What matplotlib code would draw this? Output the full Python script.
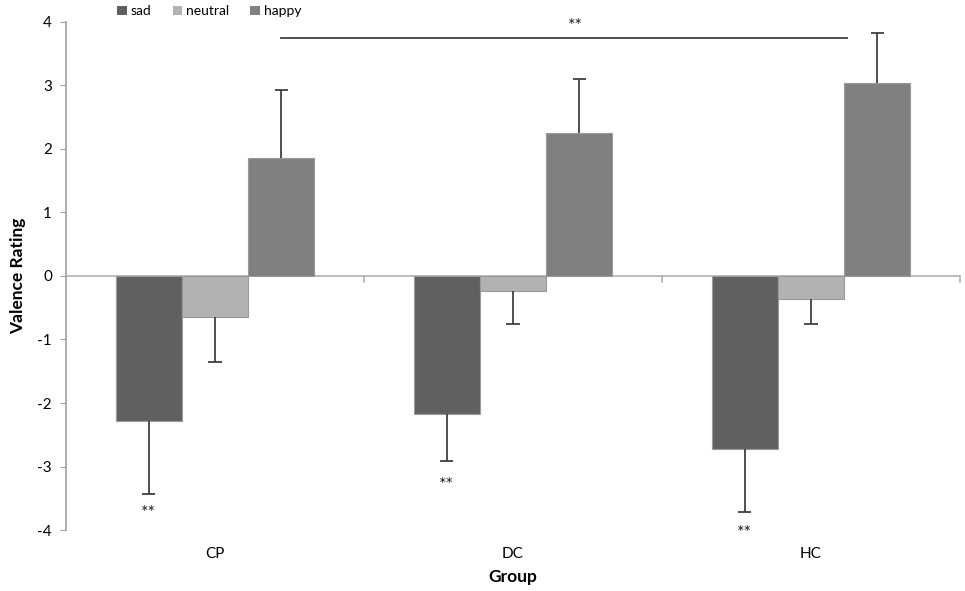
import numpy as np
import matplotlib.pyplot as plt
from matplotlib.patches import Patch

plt.rcParams['font.family'] = ['Lato', 'DejaVu Sans']
plt.rcParams['axes.unicode_minus'] = False

groups = ['CP', 'DC', 'HC']
conditions = ['sad', 'neutral', 'happy']
colors = ['#606060', '#b2b2b2', '#808080']

# means and error sizes
means = {
    'sad': [-2.28, -2.17, -2.73],
    'neutral': [-0.65, -0.23, -0.37],
    'happy': [1.86, 2.25, 3.04],
}
errs = {
    'sad': [1.15, 0.75, 0.99],
    'neutral': [0.70, 0.52, 0.39],
    'happy': [1.07, 0.85, 0.79],
}
star_y = [-3.73, -3.29, -4.05]

fig = plt.figure(figsize=(9.65, 5.91), dpi=100)
ax = fig.add_axes([0.0684, 0.1032, 0.9264, 0.8596])

x = np.arange(len(groups))
w = 0.222
cap = 0.022
for i, c in enumerate(conditions):
    pos = x + (i - 1) * w
    vals = np.array(means[c])
    e = np.array(errs[c])
    ax.bar(pos, vals, w, color=colors[i], edgecolor='#9a9a9a', linewidth=0.8, zorder=2)
    # one sided error bars, pointing away from zero
    ends = vals + np.sign(vals) * e
    ax.vlines(pos, vals, ends, color='#404040', lw=1.3, zorder=3)
    ax.hlines(ends, pos - cap, pos + cap, color='#404040', lw=1.3, zorder=3)

# zero line + category boundary ticks
ax.axhline(0, color='#b0b0b0', lw=1.2, zorder=1)
for b in [0.5, 1.5, 2.5]:
    ax.plot([b, b], [0, -0.09], color='#b0b0b0', lw=1.2, clip_on=False)

# significance markers
for xi, sy in zip(x, star_y):
    ax.text(xi - w, sy, '**', ha='center', va='center', fontsize=13, color='#222222')
ax.plot([w, 2.12], [3.75, 3.75], color='#404040', lw=1.3)
ax.text(1.21, 3.93, '**', ha='center', va='center', fontsize=13, color='#222222')

ax.set_xlim(-0.5, 2.5)
ax.set_ylim(-4, 4)
ax.set_yticks(range(-4, 5))
ax.set_xticks(x)
ax.set_xticklabels(groups)
ax.tick_params(axis='x', length=0, pad=12, labelsize=11)
ax.tick_params(axis='y', length=4, color='#a0a0a0', labelsize=11, pad=6)
for s in ['top', 'right', 'bottom']:
    ax.spines[s].set_visible(False)
ax.spines['left'].set_color('#a0a0a0')
ax.spines['left'].set_linewidth(1.2)

ax.set_ylabel('Valence Rating', fontsize=12.5, fontweight='bold', labelpad=8)
ax.set_xlabel('Group', fontsize=12.5, fontweight='bold', labelpad=6)

handles = [Patch(facecolor=colors[i], edgecolor='none', label=c) for i, c in enumerate(conditions)]
fig.legend(handles=handles, loc='upper center', bbox_to_anchor=(0.217, 1.012), ncol=3,
           frameon=False, fontsize=10, handlelength=0.7, handleheight=0.7,
           handletextpad=0.3, columnspacing=1.5)

fig.savefig('out.png', dpi=100)
